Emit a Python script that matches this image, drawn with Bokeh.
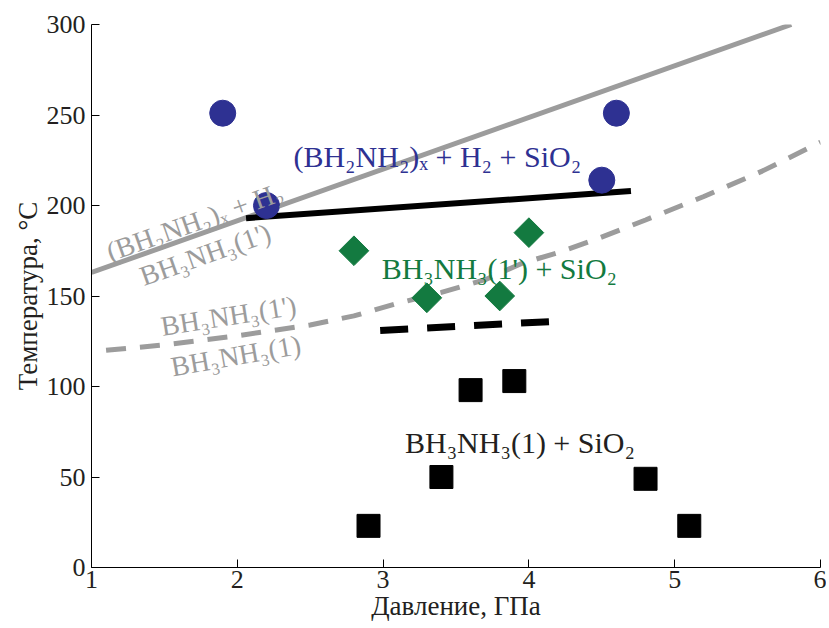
import numpy as np
from bokeh.plotting import figure
from bokeh.models import Label, Range1d, FixedTicker
from bokeh.embed import file_html
from bokeh.resources import INLINE

# --- data ---
x_ticks = [1, 2, 3, 4, 5, 6]
y_ticks = [0, 50, 100, 150, 200, 250, 300]

blue_p = [1.9, 2.2, 4.6, 4.5]
blue_t = [251, 200, 251, 214]

green_p = [2.8, 3.3, 3.8, 4.0]
green_t = [175, 149, 150, 185]

black_p = [2.9, 3.4, 3.6, 3.9, 4.8, 5.1]
black_t = [23, 50, 98, 103, 49, 23]

gray_solid_p = [1.0, 5.8]
gray_solid_t = [163, 300]

black_solid_p = [2.06, 4.7]
black_solid_t = [193, 208]

black_dash_p = [2.98, 4.18]
black_dash_t = [131, 136]

gray_dash_p = [1.1, 1.5, 2.0, 2.5, 2.8, 3.1, 3.4, 3.7, 3.95, 4.2, 4.45, 4.8, 5.2, 5.6, 6.0]
gray_dash_t = [120, 123, 128, 134, 139, 146, 152, 159, 168, 174, 181, 192, 205, 219, 235]

BLUE = "#2e3192"
GREEN = "#137a40"
GRAY = "#9c9c9c"
TXT = "#231f20"
FONT = "Liberation Serif"

p = figure(width=826, height=626, x_range=Range1d(1, 6), y_range=Range1d(0, 300),
           output_backend="svg", toolbar_location=None,
           min_border_left=91, min_border_right=6, min_border_top=24, min_border_bottom=59)
p.outline_line_color = None
p.xgrid.visible = False
p.ygrid.visible = False
p.background_fill_color = "white"
p.border_fill_color = "white"

for ax in (p.xaxis, p.yaxis):
    ax.minor_tick_line_color = None
    ax.major_tick_in = 8
    ax.major_tick_out = 0
    ax.axis_line_color = "black"
    ax.major_tick_line_color = "black"
    ax.major_label_text_font = FONT
    ax.major_label_text_font_size = "26px"
    ax.major_label_text_color = TXT
    ax.axis_label_text_font = FONT
    ax.axis_label_text_font_size = "27px"
    ax.axis_label_text_font_style = "normal"
    ax.axis_label_text_color = TXT

p.xaxis.ticker = FixedTicker(ticks=x_ticks)
p.yaxis.ticker = FixedTicker(ticks=y_ticks)
p.xaxis.axis_label = "Давление, ГПа"
p.yaxis.axis_label = "Температура, °C"
p.xaxis.major_label_standoff = 3
p.yaxis.major_label_standoff = 6
p.xaxis.axis_label_standoff = 0
p.yaxis.axis_label_standoff = 1

# lines
p.line(gray_solid_p, gray_solid_t, line_color=GRAY, line_width=5)
p.line(gray_dash_p, gray_dash_t, line_color=GRAY, line_width=5, line_dash="20 14")
p.line(black_solid_p, black_solid_t, line_color="black", line_width=6)
p.line(black_dash_p, black_dash_t, line_color="black", line_width=7, line_dash="28 19")

# markers
p.scatter(blue_p, blue_t, marker="circle", size=26, fill_color=BLUE, line_color=BLUE)
p.scatter(green_p, green_t, marker="square", size=21, angle=np.pi / 4,
          fill_color=GREEN, line_color=GREEN)
p.scatter(black_p, black_t, marker="square", size=23, fill_color="black", line_color="black")

def lab(x, y, text, color, angle=0.0, align="left", baseline="alphabetic", size="30px"):
    p.add_layout(Label(x=x, y=y, text=text, text_color=color, text_font=FONT,
                       text_font_size=size, angle=angle, text_align=align,
                       text_baseline=baseline))

lab(2.385, 227, "(BH₂NH₂)ₓ + H₂ + SiO₂", BLUE)
lab(2.99, 165, "BH₃NH₃(1') + SiO₂", GREEN)
lab(3.15, 69, "BH₃NH₃(1) + SiO₂", TXT)

lab(1.71, 191, "(BH₂NH₂)ₓ + H₂", GRAY, angle=np.deg2rad(19.5), align="center", baseline="middle", size="28px")
lab(1.78, 173, "BH₃NH₃(1')", GRAY, angle=np.deg2rad(19.5), align="center", baseline="middle", size="28px")
lab(1.94, 139, "BH₃NH₃(1')", GRAY, angle=np.deg2rad(9), align="center", baseline="middle", size="28px")
lab(1.99, 117, "BH₃NH₃(1)", GRAY, angle=np.deg2rad(10), align="center", baseline="middle", size="28px")

open("out.html", "w").write(file_html(p, INLINE))
